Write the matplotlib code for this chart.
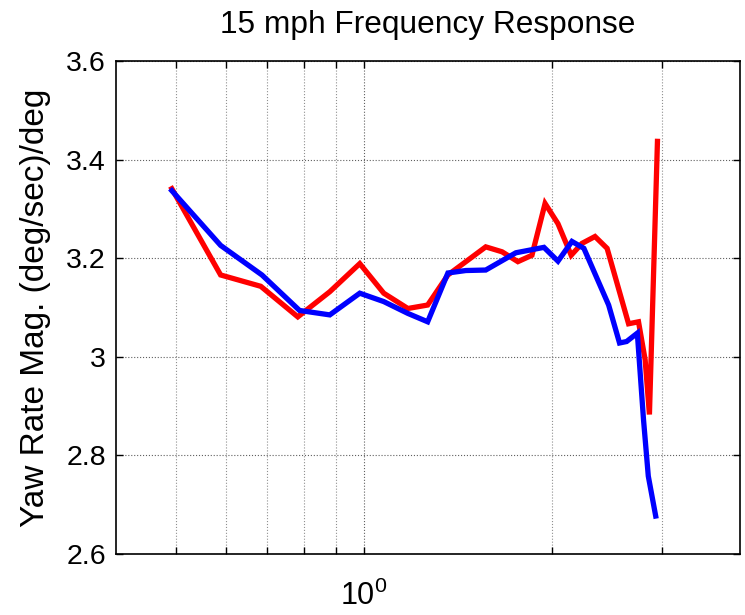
import numpy as np
import matplotlib
matplotlib.use('Agg')
import matplotlib.pyplot as plt
from matplotlib.ticker import FixedLocator, NullFormatter

plt.rcParams['font.family'] = ['Liberation Sans', 'DejaVu Sans']
plt.rcParams['mathtext.fontset'] = 'custom'
plt.rcParams['mathtext.rm'] = 'Liberation Sans'

# frequency (Hz) and yaw-rate magnitude
freq_red = [0.492, 0.589, 0.683, 0.783, 0.881, 0.984, 1.075, 1.175, 1.264, 1.362,
            1.466, 1.566, 1.663, 1.763, 1.857, 1.949, 2.044, 2.146, 2.233, 2.343,
            2.450, 2.652, 2.751, 2.819, 2.864, 2.950]
mag_red = [3.341, 3.166, 3.143, 3.081, 3.132, 3.189, 3.129, 3.098, 3.105, 3.166,
           3.196, 3.223, 3.213, 3.193, 3.206, 3.311, 3.270, 3.206, 3.230, 3.244,
           3.220, 3.067, 3.071, 2.994, 2.883, 3.437]

freq_blue = [0.492, 0.589, 0.686, 0.788, 0.881, 0.984, 1.075, 1.175, 1.264, 1.362,
             1.455, 1.566, 1.750, 1.941, 2.044, 2.152, 2.249, 2.464, 2.565, 2.633,
             2.739, 2.802, 2.852, 2.931]
mag_blue = [3.337, 3.226, 3.166, 3.094, 3.085, 3.129, 3.112, 3.088, 3.071, 3.170,
            3.175, 3.176, 3.211, 3.222, 3.194, 3.234, 3.220, 3.105, 3.028, 3.031,
            3.048, 2.873, 2.758, 2.677]

y_ticks = [2.6, 2.8, 3.0, 3.2, 3.4, 3.6]
y_labels = ['2.6', '2.8', '3', '3.2', '3.4', '3.6']
x_minor = [0.5, 0.6, 0.7, 0.8, 0.9, 2, 3]

fig = plt.figure(figsize=(7.45, 6.15), dpi=100)
ax = fig.add_axes([0.1553, 0.0992, 0.8380, 0.8016])

ax.plot(freq_red, mag_red, color='#ff0000', lw=3.8, solid_joinstyle='miter')
ax.plot(freq_blue, mag_blue, color='#0000ff', lw=3.8, solid_joinstyle='miter')

ax.set_xscale('log')
ax.set_xlim(0.4, 4)
ax.set_ylim(2.6, 3.6)

ax.xaxis.set_major_locator(FixedLocator([1.0]))
ax.set_xticklabels([r'$\mathregular{10^{0}}$'], fontsize=22)
ax.xaxis.set_minor_locator(FixedLocator(x_minor))
ax.xaxis.set_minor_formatter(NullFormatter())
ax.set_yticks(y_ticks)
ax.set_yticklabels(y_labels, fontsize=20.5)

ax.tick_params(which='both', direction='in', top=True, right=True, length=5, width=1)
ax.tick_params(axis='x', which='major', pad=19)
ax.tick_params(axis='y', which='major', pad=7)

ax.grid(True, which='major', axis='both', linestyle=':', color='#606060', lw=0.8)
ax.grid(True, which='minor', axis='x', linestyle=':', color='#909090', lw=0.8)

for s in ax.spines.values():
    s.set_linewidth(1.2)

ax.set_ylabel('Yaw Rate Mag. (deg/sec)/deg', fontsize=24, labelpad=11)
# title centred over the axes box
fig.text(0.1553 + 0.8380 / 2, 1 - 33 / 615, '15 mph Frequency Response',
         fontsize=22.8, ha='center', va='baseline')

fig.savefig('out.png', dpi=100)
